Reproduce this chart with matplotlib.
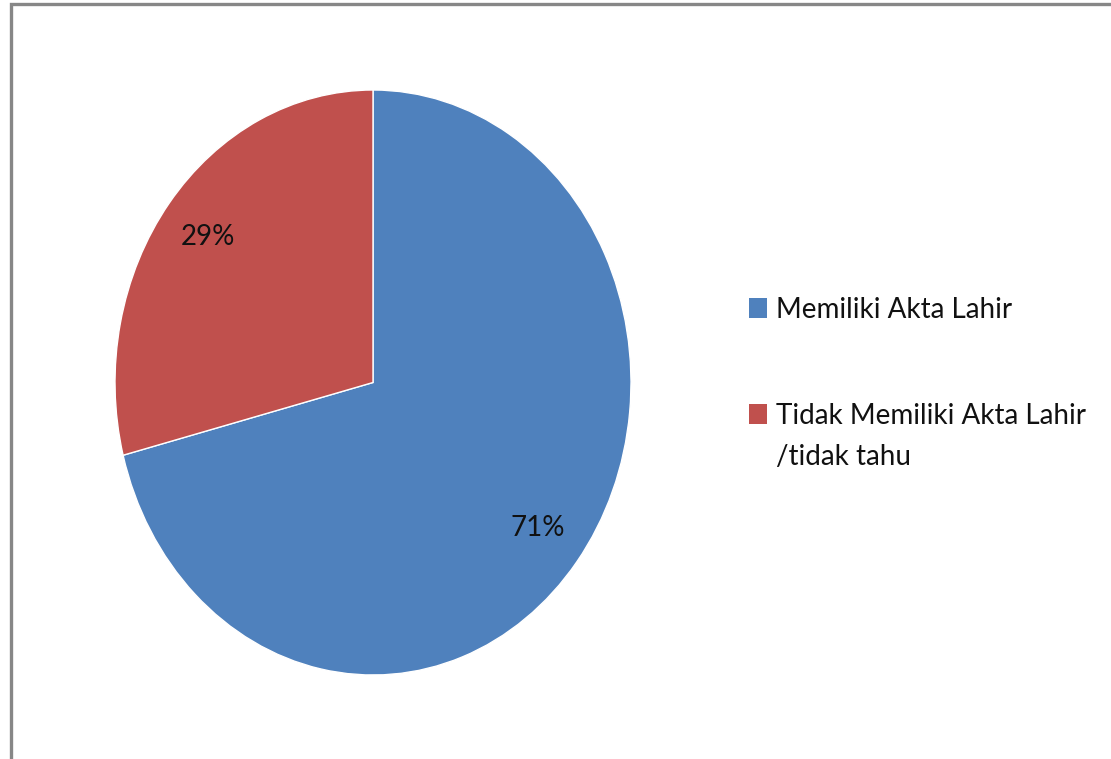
import matplotlib
matplotlib.use("Agg")
import matplotlib.pyplot as plt
import matplotlib.patches as patches

labels = ["Memiliki Akta Lahir", "Tidak Memiliki Akta Lahir\n/tidak tahu"]
values = [71, 29]
colors = ["#4F81BD", "#C0504D"]

W, H = 1111, 759
fig = plt.figure(figsize=(W / 100, H / 100), dpi=100)
plt.rcParams["font.family"] = ["Lato", "DejaVu Sans"]

# chart frame (only top and left edges visible)
fig.patches.append(patches.Rectangle(
    (10.5 / W, -0.1), 1.2, (H - 3.5) / H + 0.1, transform=fig.transFigure,
    facecolor="none", edgecolor="#878787", linewidth=2.4))

# pie is stretched into an ellipse: place axes on the pixel box
left, right, top, bottom = 115, 631, 90, 675
ax = fig.add_axes([left / W, (H - bottom) / H, (right - left) / W, (bottom - top) / H])
wedges, _, autotexts = ax.pie(
    values, colors=colors, startangle=90, counterclock=False,
    autopct="%1.0f%%", pctdistance=0.81,
    wedgeprops=dict(edgecolor="white", linewidth=1),
    textprops=dict(fontsize=20, color="#111111"))
ax.set_xlim(-1, 1)
ax.set_ylim(-1, 1)
ax.set_aspect("auto")
ax.axis("off")

# legend drawn by hand so the square lines up with the first text line
baselines = [318, 424]
line_gap = 41
for lab, col, y in zip(labels, colors, baselines):
    fig.patches.append(patches.Rectangle(
        (749 / W, (H - y) / H), 18 / W, 20 / H, transform=fig.transFigure,
        facecolor=col, edgecolor="none"))
    for i, line in enumerate(lab.split("\n")):
        fig.text(776 / W, (H - y - i * line_gap) / H, line, ha="left",
                 va="baseline", fontsize=20, color="#111111")

fig.savefig("out.png", dpi=100)
